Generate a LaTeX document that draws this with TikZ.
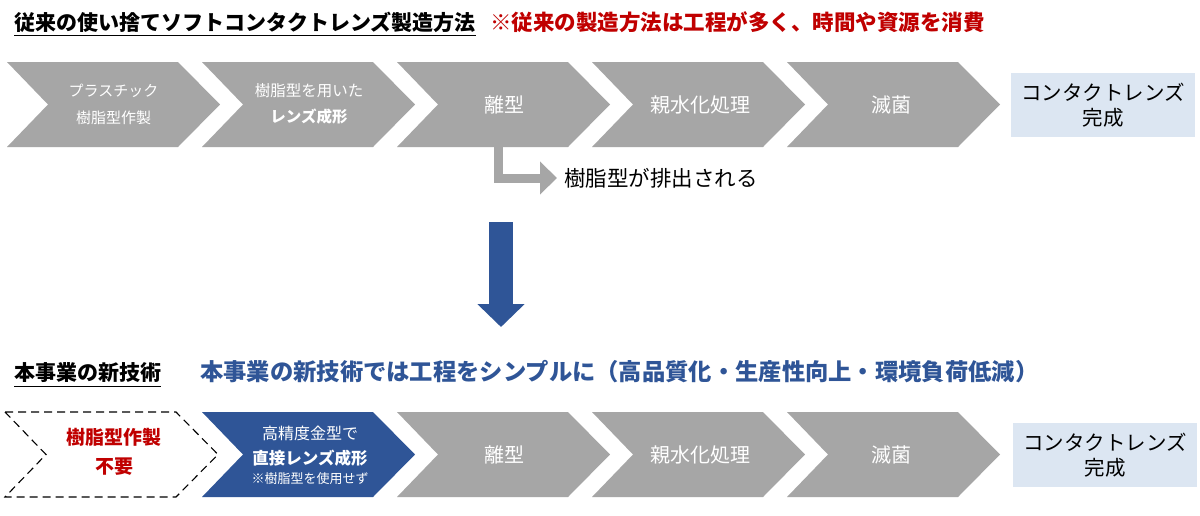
\documentclass[tikz,border=0pt]{standalone}
\usepackage{fontspec}
\setmainfont{Noto Sans CJK JP}
\usetikzlibrary{arrows.meta}
\definecolor{gr}{HTML}{A6A6A6}
\definecolor{dblue}{HTML}{2F5597}
\definecolor{dred}{HTML}{C00000}
\definecolor{lbox}{HTML}{DCE6F2}
\newcommand{\fsz}[1]{\fontsize{#1}{#1}\selectfont}
\newcommand{\chevpath}[3]{(#1,#2) -- ({#1+171},#2) -- ({#1+213},{(#2+#3)/2}) -- ({#1+171},#3) -- (#1,#3) -- ({#1+41},{(#2+#3)/2}) -- cycle}
\tikzset{
  wlabel/.style={text=white, align=center, inner sep=0pt},
  blabel/.style={text=black, align=center, inner sep=0pt},
  heading/.style={anchor=west, inner sep=0pt, font=\bfseries\fsz{21}},
  donebox/.style={fill=lbox, minimum width=184, minimum height=64, align=center, inner sep=0pt, font=\fsz{20.5}},
}
\begin{document}
\begin{tikzpicture}[x=1pt,y=-1pt]
\useasboundingbox[fill=white] (0,0) rectangle (1200,515);
% ---------- headings ----------
\node[heading] (t1) at (14,22) {従来の使い捨てソフトコンタクトレンズ製造方法};
\draw[line width=1.2] ([yshift=-3]t1.south west) -- ([yshift=-3]t1.south east);
\node[heading, text=dred, font=\bfseries\fsz{21.5}] (t2) at (490,22) {※従来の製造方法は工程が多く、時間や資源を消費};
\node[heading] (t3) at (14,373) {本事業の新技術};
\draw[line width=1.2] ([yshift=-3]t3.south west) -- ([yshift=-3]t3.south east);
\node[heading, text=dblue, font=\bfseries\fsz{23.3}] (t4) at (200,372) {本事業の新技術では工程をシンプルに（高品質化・生産性向上・環境負荷低減）};
% ---------- top row ----------
\fill[gr] \chevpath{7}{62}{147};
\fill[gr] \chevpath{202}{62}{147};
\fill[gr] \chevpath{397}{62}{147};
\fill[gr] \chevpath{592}{62}{147};
\fill[gr] \chevpath{787}{62}{147};
\node[wlabel, font=\fsz{15}] (a1) at (113.5,104) {プラスチック\\[12pt]樹脂型作製};
\node[wlabel, font=\fsz{15.5}] (a2) at (309,104) {樹脂型を用いた\\[11pt]\bfseries レンズ成形};
\node[wlabel, font=\fsz{20}] (a3) at (504,104.5) {離型};
\node[wlabel, font=\fsz{20}] (a4) at (700,104.5) {親水化処理};
\node[wlabel, font=\fsz{20}] (a5) at (891,104.5) {滅菌};
\node[donebox] (a6) at (1103,105) {コンタクトレンズ\\[5pt]完成};
% bent arrow
\coordinate (bs) at (498,147);
\node[blabel, anchor=west, font=\fsz{21.5}] (drain) at (564,178) {樹脂型が排出される};
\draw[gr, line width=9, -{Triangle[width=32pt,length=17pt]}] (bs) |- ([xshift=-7]drain.west);
% big down arrow
\coordinate (dtop) at (501,222);
\coordinate (dbot) at (501,327);
\draw[dblue, line width=24, -{Triangle[width=46pt,length=23pt]}] (dtop) -- (dbot);
% ---------- bottom row ----------
\draw[black, line width=1.1, dash pattern=on 8pt off 5pt, fill=white] \chevpath{5}{412}{497};
\fill[dblue] \chevpath{202}{412}{497};
\fill[gr] \chevpath{397}{412}{497};
\fill[gr] \chevpath{592}{412}{497};
\fill[gr] \chevpath{787}{412}{497};
\node[blabel, text=dred, font=\bfseries\fsz{19}] (b1a) at (114,437) {樹脂型作製};
\node[blabel, text=dred, font=\bfseries\fsz{19}] (b1b) at (114,467) {不要};
\node[wlabel, font=\fsz{16}] (b2a) at (310,433) {高精度金型で};
\node[wlabel, font=\bfseries\fsz{16.5}] (b2b) at (310,458) {直接レンズ成形};
\node[wlabel, font=\fsz{13}] (b2c) at (310,479) {※樹脂型を使用せず};
\node[wlabel, font=\fsz{20}] (b3) at (504,454.5) {離型};
\node[wlabel, font=\fsz{20}] (b4) at (700,454.5) {親水化処理};
\node[wlabel, font=\fsz{20}] (b5) at (891,454.5) {滅菌};
\node[donebox] (b6) at (1105,455) {コンタクトレンズ\\[5pt]完成};
\end{tikzpicture}
\end{document}
